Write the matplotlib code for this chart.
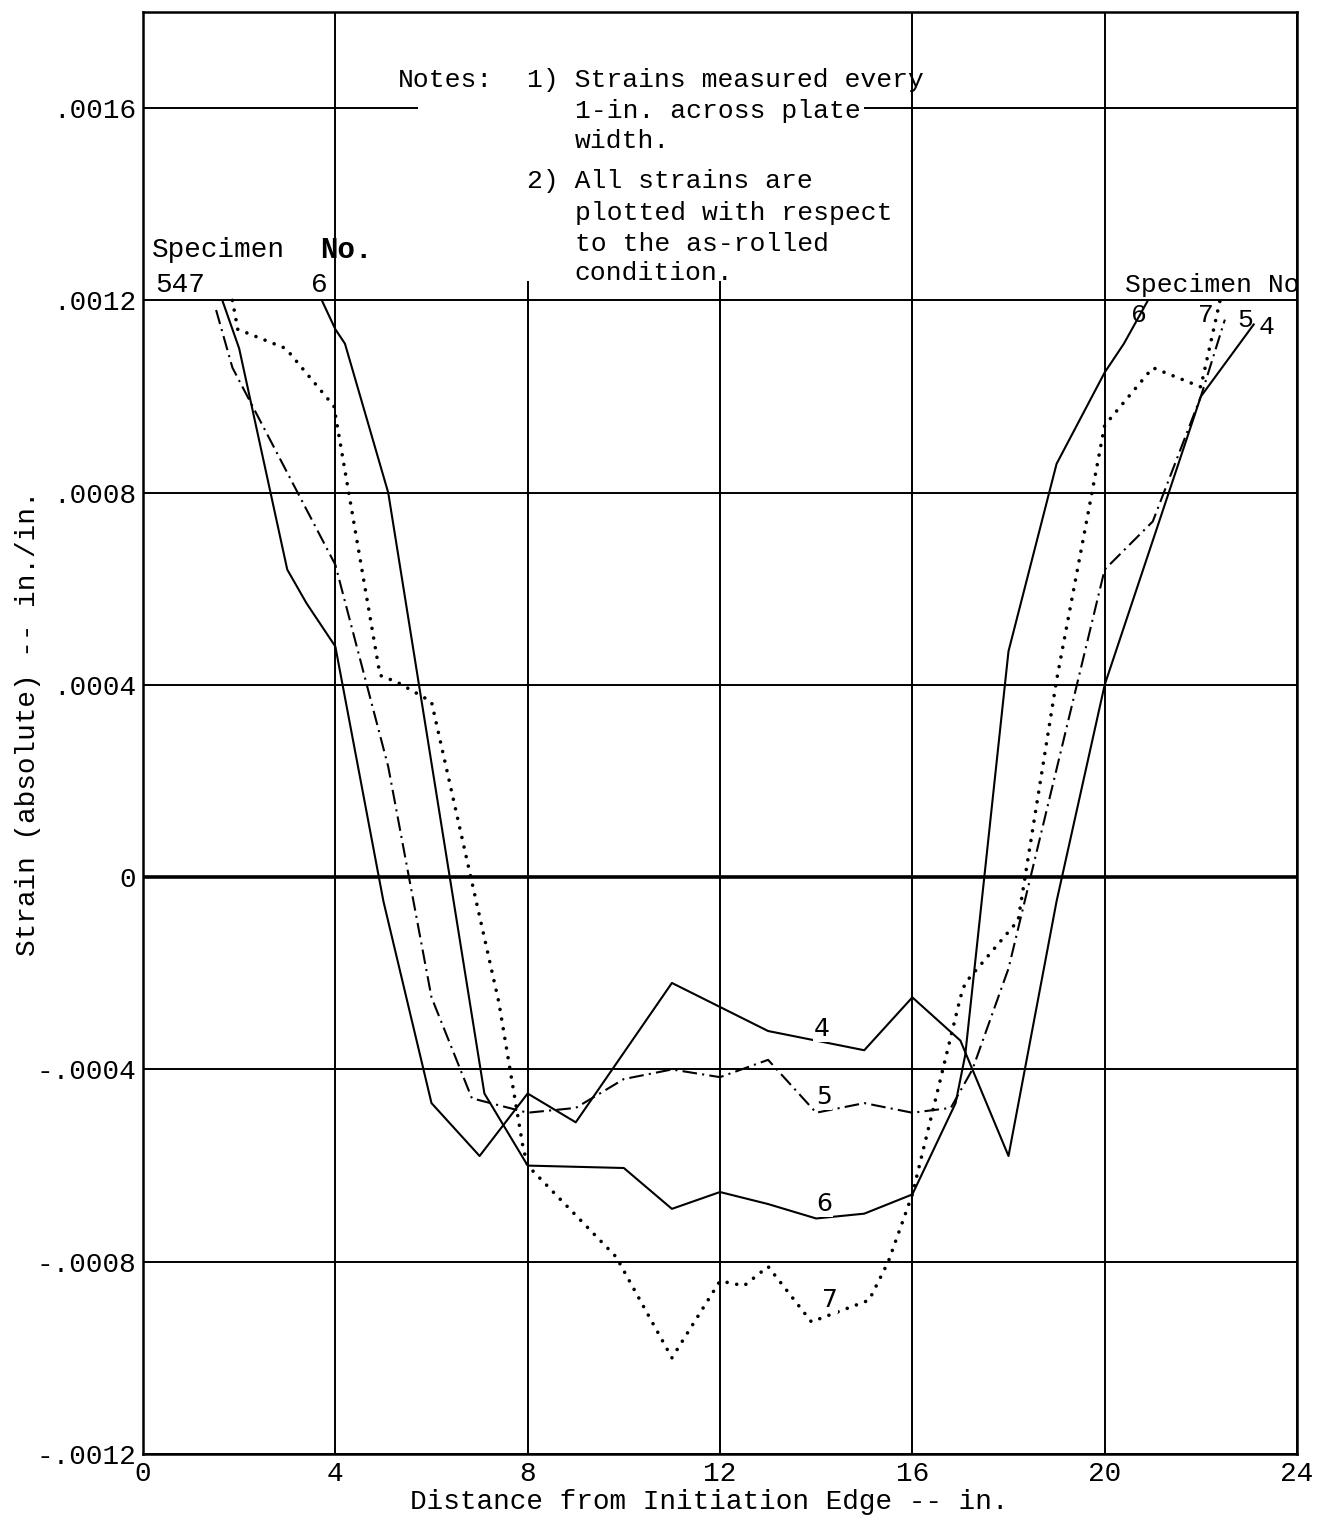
import matplotlib
matplotlib.use("Agg")
import matplotlib.pyplot as plt
from matplotlib.patches import Rectangle

# strain readings (in./in.) against distance from initiation edge (in.)
spec4_x = [1.65, 2, 3, 3.4, 4, 5, 6, 7, 8, 9, 11, 12, 13, 15, 16, 17, 18, 19, 20, 21, 22, 23.1]
spec4_y = [.0012, .0011, .00064, .00057, .00048, -.00005, -.00047, -.00058, -.00045, -.00051,
           -.00022, -.00027, -.00032, -.00036, -.00025, -.00034, -.00058, -.00005, .0004, .0007,
           .001, .00115]

spec5_x = [1.52, 1.86, 4, 5.1, 6, 6.84, 8, 9, 10, 11, 12, 13, 14, 15, 16, 16.8, 17.25, 18, 20,
           21, 22, 22.5]
spec5_y = [.00118, .00106, .00065, .00023, -.00025, -.00046, -.00049, -.00048, -.00042, -.0004,
           -.000416, -.00038, -.00049, -.00047, -.00049, -.00048, -.0004, -.00019, .00064,
           .00074, .001, .00116]

spec6_x = [3.72, 4, 4.2, 5.1, 7.1, 8, 10, 11, 12, 13, 14, 15, 16, 16.9, 17.1, 18, 19, 20,
           20.4, 20.9]
spec6_y = [.0012, .00114, .00111, .0008, -.00045, -.0006, -.000605, -.00069, -.000655,
           -.00068, -.00071, -.0007, -.00066, -.00047, -.00037, .00047, .00086, .00105,
           .00111, .0012]

spec7_x = [1.86, 1.97, 2.97, 3.97, 4.93, 5.3, 6, 7.4, 7.65, 7.9, 8, 9.84, 11, 12, 12.5, 13,
           13.9, 15.1, 15.5, 16, 17, 17.1, 18.2, 19, 20, 21, 22, 22.4]
spec7_y = [.0012, .00114, .0011, .00098, .00042, .000405, .000365, -.00026, -.00041, -.00056,
           -.0006, -.00079, -.001, -.00084, -.00085, -.00081, -.000925, -.00088, -.0008,
           -.00066, -.00025, -.00022, -.00009, .00041, .00094, .00106, .00102, .0012]

x_ticks = [0, 4, 8, 12, 16, 20, 24]
y_ticks = [-.0012, -.0008, -.0004, 0, .0004, .0008, .0012, .0016]
y_tick_labels = ["-.0012", "-.0008", "-.0004", "0", ".0004", ".0008", ".0012", ".0016"]

notes = [
    ("Notes:", 5.3, .001658),
    ("1) Strains measured every", 7.98, .001658),
    ("1-in. across plate", 8.98, .001594),
    ("width.", 8.98, .001532),
    ("2) All strains are", 7.98, .001449),
    ("plotted with respect", 8.98, .001382),
    ("to the as-rolled", 8.98, .001318),
    ("condition.", 8.98, .001258),
]

MONO = "Liberation Mono"

fig = plt.figure(figsize=(13.17, 15.22), dpi=100)
ax = fig.add_axes([0.10858, 0.04468, 0.87623, 0.94744])

ax.set_xlim(0, 24)
ax.set_ylim(-.0012, .0018)
ax.set_axisbelow(True)
ax.grid(True, color="black", lw=1.4)
ax.axhline(0, color="black", lw=2.6, zorder=0.6)

for s in ax.spines.values():
    s.set_linewidth(1.8)

ax.set_xticks(x_ticks)
ax.set_xticklabels([str(t) for t in x_ticks], fontfamily=MONO, fontsize=20)
ax.set_yticks(y_ticks)
ax.set_yticklabels(y_tick_labels, fontfamily=MONO, fontsize=20)
ax.tick_params(length=0, pad=5)

ax.set_xlabel("Distance from Initiation Edge -- in.", fontfamily=MONO, fontsize=20)
ax.xaxis.set_label_coords(0.4905, -0.0333)
ax.xaxis.label.set_va("center")
ax.set_ylabel("Strain (absolute) -- in./in.", fontfamily=MONO, fontsize=20)
ax.yaxis.set_label_coords(-0.0997, 0.507)
ax.yaxis.label.set_va("center")

# white patch behind the notes hides the grid there
ax.add_patch(Rectangle((5.72, .00124), 15.0 - 5.72, .0018 - .00124,
                       facecolor="white", edgecolor="none", zorder=1))

ax.plot(spec4_x, spec4_y, color="black", lw=1.5, zorder=2)
ax.plot(spec5_x, spec5_y, color="black", lw=1.5, zorder=2,
        linestyle=(0, (7, 2.5, 1, 2.5)))
ax.plot(spec6_x, spec6_y, color="black", lw=1.5, zorder=2)
ax.plot(spec7_x, spec7_y, color="black", lw=2.6, zorder=2,
        linestyle=(0, (0.01, 2.7)), dash_capstyle="round")

for txt, x, y in notes:
    ax.text(x, y, txt, fontfamily=MONO, fontsize=19, ha="left", va="center", zorder=3)

# specimen keys
ax.text(0.19, .001305, "Specimen", fontfamily=MONO, fontsize=20, ha="left", va="center",
        zorder=3)
ax.text(3.68, .001305, "No.", fontfamily=MONO, fontsize=21, fontweight="bold",
        ha="left", va="center", zorder=3)
ax.text(0.25, .001205, "547", fontfamily=MONO, fontsize=20, ha="left", va="bottom", zorder=3)
ax.text(3.5, .001205, "6", fontfamily=MONO, fontsize=20, ha="left", va="bottom", zorder=3)

ax.text(20.42, .001232, "Specimen No", fontfamily=MONO, fontsize=19, ha="left", va="center",
        zorder=3)
ax.text(20.55, .00117, "6", fontfamily=MONO, fontsize=19, ha="left", va="center", zorder=3)
ax.text(21.95, .00117, "7", fontfamily=MONO, fontsize=19, ha="left", va="center", zorder=3)
ax.text(22.75, .00116, "5", fontfamily=MONO, fontsize=19, ha="left", va="center", zorder=3)
ax.text(23.2, .001145, "4", fontfamily=MONO, fontsize=19, ha="left", va="center", zorder=3)

for lab, x, y in [("4", 14.12, -.000316), ("5", 14.16, -.000457),
                  ("6", 14.16, -.00068), ("7", 14.28, -.00088)]:
    ax.text(x, y, lab, fontsize=18, ha="center", va="center", zorder=3,
            bbox=dict(facecolor="white", edgecolor="none", pad=0.5))

fig.savefig("out.png", dpi=100)
